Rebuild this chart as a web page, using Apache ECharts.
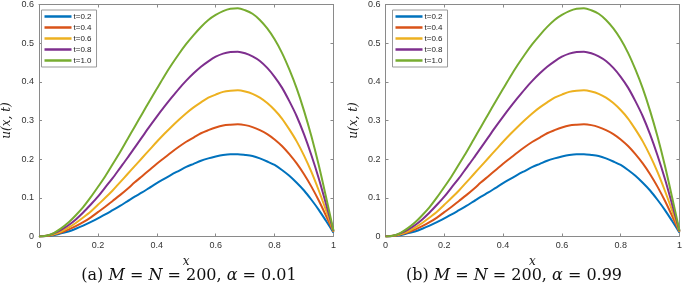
<!DOCTYPE html>
<html>
<head>
<meta charset="utf-8">
<script src="https://cdn.jsdelivr.net/npm/echarts@6/dist/echarts.min.js"></script>
<style>
html,body{margin:0;padding:0;background:#fff;}
#c{width:685px;height:289px;}
</style>
</head>
<body>
<div id="c"></div>
<script>
// x positions (shared)
var xs = [0, 0.025, 0.05, 0.075, 0.1, 0.125, 0.15, 0.175, 0.2, 0.225, 0.25, 0.275, 0.3, 0.325, 0.35, 0.375, 0.4, 0.425, 0.45, 0.475, 0.5,
          0.525, 0.55, 0.575, 0.6, 0.625, 0.65, 0.675, 0.7, 0.725, 0.75, 0.775, 0.8, 0.825, 0.85, 0.875, 0.9, 0.925, 0.95, 0.975, 1];
// series names
var names = ['t=0.2', 't=0.4', 't=0.6', 't=0.8', 't=1.0'];
// values, alpha = 0.01
var a_t02 = [0, 0.001, 0.003, 0.008, 0.013, 0.020, 0.028, 0.037, 0.047, 0.057, 0.068, 0.079, 0.091, 0.103, 0.114, 0.126, 0.138, 0.149, 0.160, 0.170, 0.180,
             0.188, 0.196, 0.202, 0.207, 0.211, 0.213, 0.213, 0.211, 0.208, 0.202, 0.194, 0.185, 0.172, 0.157, 0.139, 0.119, 0.095, 0.069, 0.040, 0.010];
var a_t04 = [0, 0.001, 0.005, 0.010, 0.018, 0.027, 0.037, 0.049, 0.063, 0.077, 0.092, 0.107, 0.123, 0.140, 0.156, 0.172, 0.188, 0.203, 0.218, 0.232, 0.245,
             0.256, 0.267, 0.275, 0.282, 0.287, 0.289, 0.290, 0.288, 0.283, 0.275, 0.265, 0.251, 0.234, 0.213, 0.189, 0.161, 0.129, 0.093, 0.053, 0.012];
var a_t06 = [0, 0.002, 0.006, 0.013, 0.023, 0.035, 0.049, 0.064, 0.082, 0.100, 0.119, 0.140, 0.161, 0.182, 0.203, 0.224, 0.245, 0.265, 0.284, 0.302, 0.319,
             0.334, 0.347, 0.359, 0.367, 0.374, 0.377, 0.378, 0.375, 0.369, 0.359, 0.345, 0.327, 0.305, 0.277, 0.246, 0.209, 0.167, 0.119, 0.067, 0.013];
var a_t08 = [0, 0.002, 0.008, 0.017, 0.029, 0.044, 0.062, 0.082, 0.103, 0.127, 0.151, 0.177, 0.203, 0.230, 0.257, 0.284, 0.310, 0.335, 0.359, 0.382, 0.403,
             0.422, 0.439, 0.453, 0.465, 0.473, 0.477, 0.478, 0.474, 0.466, 0.454, 0.436, 0.413, 0.385, 0.350, 0.311, 0.264, 0.210, 0.150, 0.083, 0.014];
var a_t10 = [0, 0.002, 0.009, 0.021, 0.036, 0.055, 0.076, 0.101, 0.128, 0.156, 0.187, 0.218, 0.251, 0.284, 0.317, 0.350, 0.382, 0.414, 0.444, 0.472, 0.498,
             0.521, 0.542, 0.560, 0.573, 0.583, 0.589, 0.590, 0.585, 0.576, 0.560, 0.538, 0.510, 0.475, 0.432, 0.383, 0.325, 0.259, 0.184, 0.101, 0.015];
// values, alpha = 0.99 (visually identical to panel (a))
var b_t02 = a_t02.slice();
var b_t04 = a_t04.slice();
var b_t06 = a_t06.slice();
var b_t08 = a_t08.slice();
var b_t10 = a_t10.slice();
// tick labels
var xTicks = ['0', '0.2', '0.4', '0.6', '0.8', '1'];
var yTicks = ['0', '0.1', '0.2', '0.3', '0.4', '0.5', '0.6'];

var colors = ['#0072BD', '#D95319', '#EDB120', '#7E2F8E', '#77AC30'];
var panelA = [a_t02, a_t04, a_t06, a_t08, a_t10];
var panelB = [b_t02, b_t04, b_t06, b_t08, b_t10];

function pairs(vals) { return xs.map(function (x, i) { return [x, vals[i]]; }); }

var axisCol = '#8a8a8a';
var labCol = '#333';
var tickFont = 'Liberation Sans, Arial, sans-serif';
var serif = 'DejaVu Serif, serif';

function xAxisMain(gi) {
  return {
    gridIndex: gi, type: 'value', min: 0, max: 1, interval: 0.2, position: 'bottom',
    axisLine: { show: true, onZero: false, lineStyle: { color: axisCol, width: 1 } },
    axisTick: { show: true, inside: true, length: 3, lineStyle: { color: axisCol } },
    axisLabel: { color: labCol, fontSize: 9, fontFamily: tickFont, margin: 5,
      formatter: function (v) { return xTicks[Math.round(v / 0.2)]; } },
    splitLine: { show: false },
    name: 'x', nameLocation: 'middle', nameGap: 18,
    nameTextStyle: { fontFamily: serif, fontStyle: 'italic', fontSize: 12, color: '#222' }
  };
}
function xAxisTop(gi) {
  return {
    gridIndex: gi, type: 'value', min: 0, max: 1, interval: 0.2, position: 'top',
    axisLine: { show: true, onZero: false, lineStyle: { color: axisCol, width: 1 } },
    axisTick: { show: true, inside: true, length: 3, lineStyle: { color: axisCol } },
    axisLabel: { show: false }, splitLine: { show: false }
  };
}
function yAxisMain(gi) {
  return {
    gridIndex: gi, type: 'value', min: 0, max: 0.6, interval: 0.1, position: 'left',
    axisLine: { show: true, onZero: false, lineStyle: { color: axisCol, width: 1 } },
    axisTick: { show: true, inside: true, length: 3, lineStyle: { color: axisCol } },
    axisLabel: { color: labCol, fontSize: 9, fontFamily: tickFont, margin: 5,
      formatter: function (v) { return yTicks[Math.round(v / 0.1)]; } },
    splitLine: { show: false },
    name: 'u(x, t)', nameLocation: 'middle', nameGap: 26, nameRotate: 90,
    nameTextStyle: { fontFamily: serif, fontStyle: 'italic', fontSize: 12, color: '#222' }
  };
}
function yAxisRight(gi) {
  return {
    gridIndex: gi, type: 'value', min: 0, max: 0.6, interval: 0.1, position: 'right',
    axisLine: { show: true, onZero: false, lineStyle: { color: axisCol, width: 1 } },
    axisTick: { show: true, inside: true, length: 3, lineStyle: { color: axisCol } },
    axisLabel: { show: false }, splitLine: { show: false }
  };
}

var series = [];
[panelA, panelB].forEach(function (panel, p) {
  panel.forEach(function (vals, k) {
    series.push({
      type: 'line', name: names[k], xAxisIndex: p, yAxisIndex: p,
      data: pairs(vals), showSymbol: false, symbol: 'none',
      smooth: 0.3,
      lineStyle: { color: colors[k], width: 2 }, itemStyle: { color: colors[k] },
      z: 2 + k
    });
  });
});

function legend(left) {
  return {
    left: left, top: 10, orient: 'vertical', data: names,
    icon: 'rect', itemWidth: 27, itemHeight: 2.5, itemGap: 0,
    padding: [1, 5, 1, 3], backgroundColor: '#fff',
    borderColor: '#999', borderWidth: 1, borderRadius: 0,
    selectedMode: false,
    textStyle: { fontSize: 8, lineHeight: 11, color: '#222', fontFamily: tickFont, padding: [0, 0, 0, -3] }
  };
}

var rich = {
  n: { fontFamily: serif, fontSize: 16, fontWeight: 'normal', color: '#111' },
  i: { fontFamily: serif, fontSize: 16, fontStyle: 'italic', fontWeight: 'normal', color: '#111' }
};
function caption(letter, alpha, cx) {
  return {
    text: '{n|(' + letter + ') }{i|M}{n| = }{i|N}{n| = 200, }{i|α}{n| = ' + alpha + '}',
    left: cx, top: 268, textAlign: 'center', padding: 0,
    textStyle: { fontWeight: 'normal', rich: rich }
  };
}

var chart = echarts.init(document.getElementById('c'), null, { renderer: 'canvas' });
chart.setOption({
  animation: false,
  backgroundColor: '#fff',
  color: colors,
  title: [caption('a', '0.01', 189), caption('b', '0.99', 514)],
  grid: [
    { left: 35.5, top: 3, width: 298, height: 233.5 },
    { left: 385.5, top: 3, width: 298, height: 233.5 }
  ],
  xAxis: [xAxisMain(0), xAxisMain(1), xAxisTop(0), xAxisTop(1)],
  yAxis: [yAxisMain(0), yAxisMain(1), yAxisRight(0), yAxisRight(1)],
  legend: [legend(41.5), legend(392.5)],
  series: series
});
</script>
</body>
</html>
